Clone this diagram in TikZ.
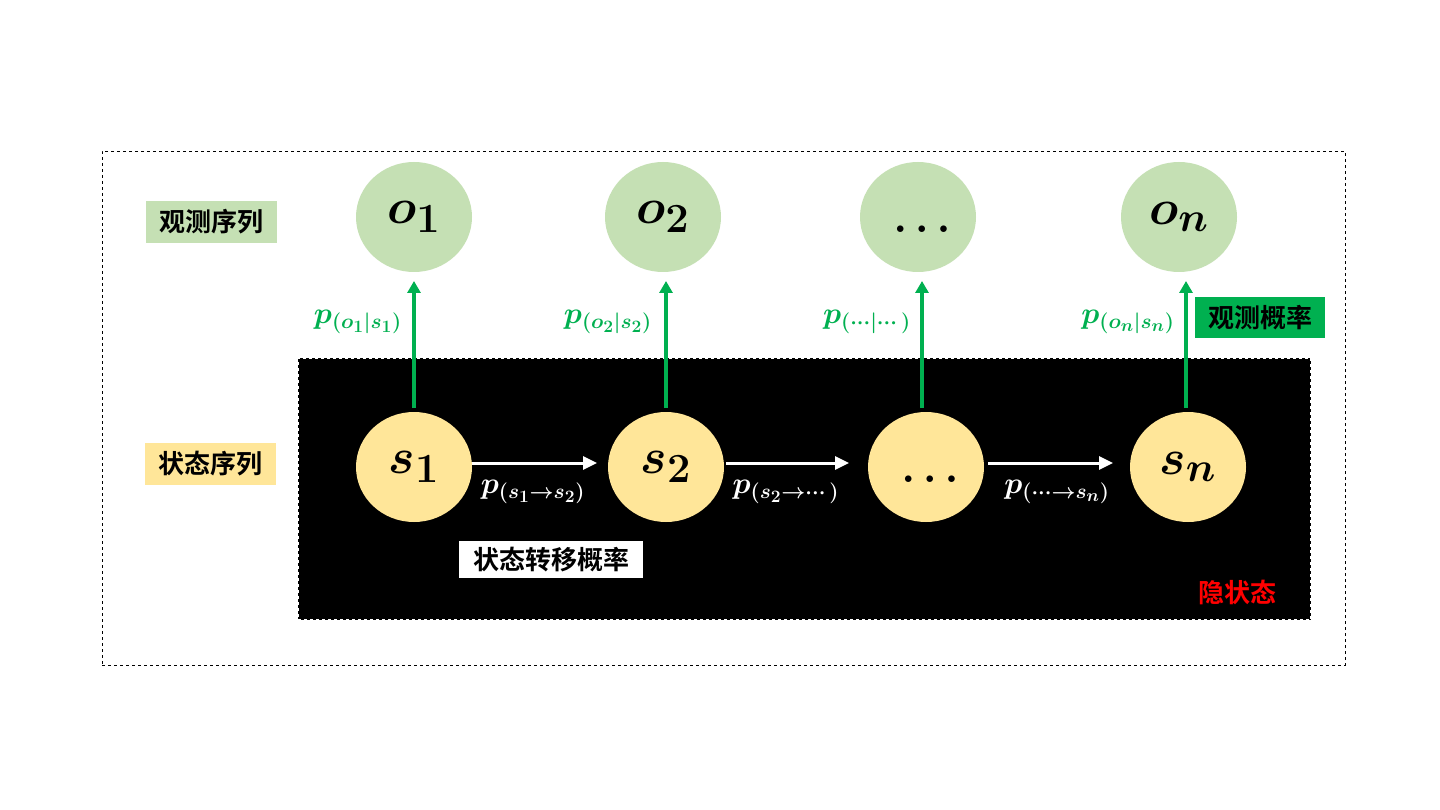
\documentclass[tikz,border=0pt]{standalone}
\usepackage{amsmath,bm}
\usepackage{fontspec}
\newfontfamily\cjk{Noto Sans CJK SC}[BoldFont={Noto Sans CJK SC Bold}]
\usetikzlibrary{arrows.meta,shapes.geometric}
\definecolor{lgreen}{HTML}{C5E0B4}
\definecolor{lyellow}{HTML}{FFE699}
\definecolor{dgreen}{HTML}{00B050}
\begin{document}
\begin{tikzpicture}[x=1pt,y=-1pt,
  obs/.style={ellipse,fill=lgreen,minimum width=116pt,minimum height=110pt,inner sep=0pt},
  st/.style={ellipse,fill=lyellow,minimum width=116pt,minimum height=110pt,inner sep=0pt},
  big/.style={font=\Huge,scale=2},
  dots/.style={font=\Huge,scale=1.7,inner sep=0pt},
  tag/.style={font=\cjk\bfseries\fontsize{26}{30}\selectfont,inner sep=0pt,minimum height=42pt},
  garr/.style={draw=dgreen,line width=3.5pt,-{Triangle[length=12pt,width=13pt]}},
  warr/.style={draw=white,line width=3pt,-{Triangle[length=14pt,width=13pt]}},
  plab/.style={font=\huge,scale=1.45,inner sep=0pt}
]
\useasboundingbox (0,0) rectangle (1440,810);
\fill[white] (0,0) rectangle (1440,810);
\node[draw=black,dashed,line width=0.6pt,minimum width=1243pt,minimum height=514pt,inner sep=0pt] (outer) at (723.5,408) {};
\node[fill=black,draw=white,dashed,line width=1.2pt,minimum width=1013pt,minimum height=262pt,inner sep=0pt] (hid) at (804.5,489) {};

\node[obs] (o1) at (414,217) {};
\node[big] at (o1) {$\bm{o_1}$};
\node[obs] (o2) at (663,217) {};
\node[big] at (o2) {$\bm{o_2}$};
\node[obs] (o3) at (918,217) {};
\node[dots] at (922,229) {$\bm{\ldots}$};
\node[obs] (o4) at (1179,217) {};
\node[big] at (o4) {$\bm{o_n}$};

\node[st] (s1) at (414,467) {};
\node[big] at (s1) {$\bm{s_1}$};
\node[st] (s2) at (666,467) {};
\node[big] at (s2) {$\bm{s_2}$};
\node[st] (s3) at (926,467) {};
\node[dots] at (930,479) {$\bm{\ldots}$};
\node[st] (s4) at (1188,467) {};
\node[big] at (s4) {$\bm{s_n}$};

\coordinate (a1) at (414,408); \coordinate (b1) at (414,281);
\coordinate (a2) at (666,408); \coordinate (b2) at (666,281);
\coordinate (a3) at (922,408); \coordinate (b3) at (922,281);
\coordinate (a4) at (1186,408); \coordinate (b4) at (1186,281);
\draw[garr] (a1) -- (b1);
\draw[garr] (a2) -- (b2);
\draw[garr] (a3) -- (b3);
\draw[garr] (a4) -- (b4);

\coordinate (c1) at (472,463); \coordinate (d1) at (597,463);
\coordinate (c2) at (726,463); \coordinate (d2) at (849,463);
\coordinate (c3) at (988,463); \coordinate (d3) at (1113,463);
\draw[warr] (c1) -- (d1);
\draw[warr] (c2) -- (d2);
\draw[warr] (c3) -- (d3);

\node[plab,text=dgreen] (l1) at (358,322) {$\bm{p_{(o_1|s_1)}}$};
\node[plab,text=dgreen] (l2) at (608,322) {$\bm{p_{(o_2|s_2)}}$};
\node[plab,text=dgreen] (l3) at (867,322) {$\bm{p_{(\cdots|\cdots)}}$};
\node[plab,text=dgreen] (l4) at (1128,322) {$\bm{p_{(o_n|s_n)}}$};

\node[plab,text=white] (t1) at (533,492) {$\bm{p_{(s_1\to s_2)}}$};
\node[plab,text=white] (t2) at (786,492) {$\bm{p_{(s_2\to\cdots)}}$};
\node[plab,text=white] (t3) at (1057,492) {$\bm{p_{(\cdots\to s_n)}}$};

\node[tag,fill=lgreen,minimum width=131pt] (obsseq) at (211.5,222) {观测序列};
\node[tag,fill=lyellow,minimum width=131pt] (stseq) at (210.5,464) {状态序列};
\node[tag,fill=dgreen,minimum width=130pt,minimum height=41pt] (obsp) at (1260,317.5) {观测概率};
\node[tag,fill=white,minimum width=184pt,minimum height=37pt] (trp) at (551,559.5) {状态转移概率};
\node[tag,text=red,minimum height=0pt] (hs) at (1237,592) {隐状态};
\end{tikzpicture}
\end{document}
